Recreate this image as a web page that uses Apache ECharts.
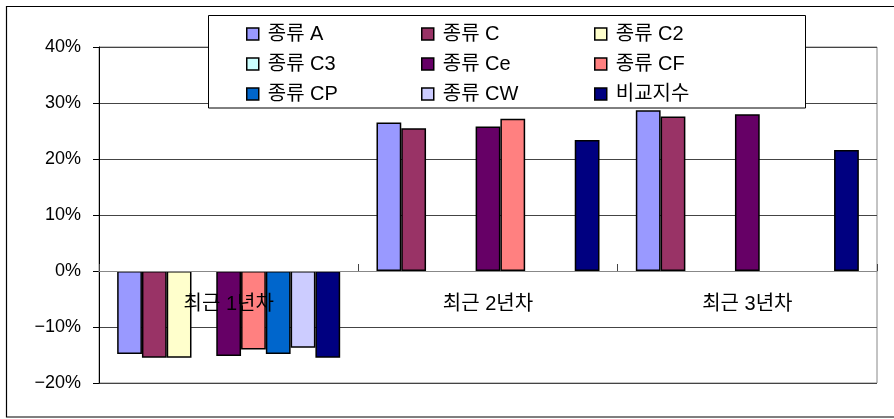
<!DOCTYPE html>
<html>
<head>
<meta charset="utf-8">
<script src="https://cdn.jsdelivr.net/npm/echarts@6/dist/echarts.min.js"></script>
<style>
  html, body { margin: 0; padding: 0; background: #fff; }
  #chart { width: 894px; height: 419px; }
</style>
</head>
<body>
<div id="chart"></div>
<script>
// categories (x axis)
const categories = ['최근 1년차', '최근 2년차', '최근 3년차'];

// series values in %, null = no bar
const seriesNames = ['종류 A', '종류 C', '종류 C2', '종류 C3', '종류 Ce', '종류 CF', '종류 CP', '종류 CW', '비교지수'];
const typeA   = [-14.8, 26.5, 28.7];
const typeC   = [-15.5, 25.5, 27.6];
const typeC2  = [-15.5, null, null];
const typeC3  = [null, null, null];
const typeCe  = [-15.2, 25.8, 28.0];
const typeCF  = [-14.0, 27.2, null];
const typeCP  = [-14.8, null, null];
const typeCW  = [-13.7, null, null];
const compare = [-15.5, 23.4, 21.6];
const seriesValues = [typeA, typeC, typeC2, typeC3, typeCe, typeCF, typeCP, typeCW, compare];

// Excel palette colours
const colors = ['#9999FF', '#993366', '#FFFFCC', '#CCFFFF', '#660066', '#FF8080', '#0066CC', '#CCCCFF', '#000080'];

// y axis ticks
const yMin = -20, yMax = 40, yStep = 10;

const font = "'Liberation Sans', 'Noto Sans CJK KR', sans-serif";

const chart = echarts.init(document.getElementById('chart'), null, { renderer: 'canvas' });

// legend in three columns, one vertical legend per column
function legendColumn(names, left) {
    return {
        orient: 'vertical',
        left: left,
        top: 24,
        padding: 0,
        z: 6,
        data: names,
        selectedMode: false,
        icon: 'rect',
        itemWidth: 12,
        itemHeight: 12,
        itemGap: 10,
        itemStyle: { borderColor: '#000', borderWidth: 1.5 },
        textStyle: { fontFamily: font, fontSize: 20, color: '#000', lineHeight: 20, padding: [0, 0, 0, 4] }
    };
}

const option = {
    animation: false,
    backgroundColor: '#fff',
    textStyle: { fontFamily: font },
    grid: {
        left: 99, right: 17, top: 47, bottom: 36,
        show: true, borderColor: '#888', borderWidth: 1
    },
    graphic: [
        {   // outer frame
            type: 'rect', z: 1, silent: true,
            shape: { x: 6.5, y: 6.5, width: 900, height: 410.5 },
            style: { fill: null, stroke: '#000', lineWidth: 1.2 }
        },
        {   // legend box
            type: 'rect', z: 5, silent: true,
            shape: { x: 208.5, y: 15.5, width: 597, height: 92.5 },
            style: { fill: '#fff', stroke: '#000', lineWidth: 1 }
        }
    ],
    legend: [
        legendColumn([seriesNames[0], seriesNames[3], seriesNames[6]], 246),
        legendColumn([seriesNames[1], seriesNames[4], seriesNames[7]], 421),
        legendColumn([seriesNames[2], seriesNames[5], seriesNames[8]], 594)
    ],
    xAxis: {
        type: 'category',
        data: categories,
        z: 10,
        axisLine: { onZero: true, lineStyle: { color: '#888', width: 1 } },
        axisTick: { show: true, inside: true, length: 7, alignWithLabel: false, lineStyle: { color: '#444' } },
        // labels sit just under the zero line, as in the original
        axisLabel: { fontFamily: font, fontSize: 20, color: '#000', margin: -89 },
        splitLine: { show: false }
    },
    yAxis: {
        type: 'value',
        min: yMin, max: yMax, interval: yStep,
        axisLine: { show: true, lineStyle: { color: '#000', width: 1 } },
        axisTick: { show: true, length: 6, lineStyle: { color: '#000' } },
        axisLabel: {
            fontFamily: font, fontSize: 18, color: '#000', margin: 18,
            formatter: v => (v < 0 ? '\u2212' + (-v) : v) + '%'
        },
        splitLine: { show: true, lineStyle: { color: '#444', width: 1 } }
    },
    series: seriesNames.map((name, i) => ({
        name: name,
        type: 'bar',
        data: seriesValues[i],
        barGap: 0,
        barCategoryGap: '14%',
        itemStyle: { color: colors[i], borderColor: '#000', borderWidth: 1.5 }
    }))
};

chart.setOption(option);
</script>
</body>
</html>
